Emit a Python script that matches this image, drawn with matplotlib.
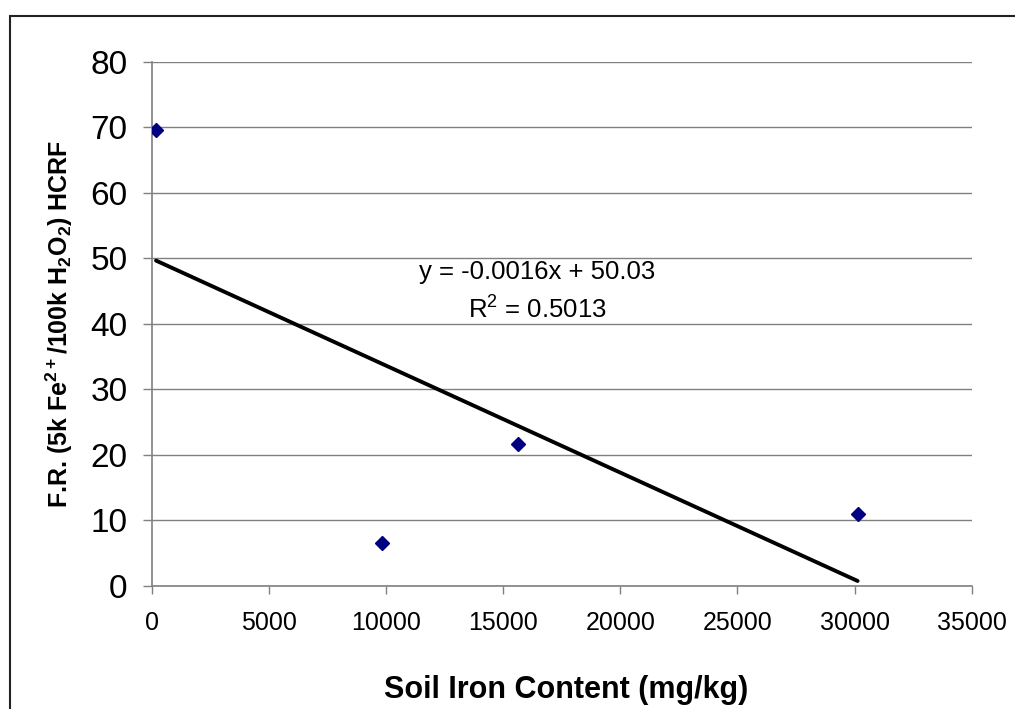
import numpy as np
import matplotlib
matplotlib.use("Agg")
import matplotlib.pyplot as plt
from matplotlib.patches import Rectangle

# -------------------- Data --------------------
iron_mg_kg = [170, 9800, 15615, 30130]
fr_hcrf = [69.6, 6.5, 21.7, 10.95]
x_ticks = [0, 5000, 10000, 15000, 20000, 25000, 30000, 35000]
y_ticks = [0, 10, 20, 30, 40, 50, 60, 70, 80]
eq_text = "y = -0.0016x + 50.03"
r2_text = "R$^2$ = 0.5013"

# -------------------- Style --------------------
plt.rcParams['font.family'] = ['Liberation Sans', 'DejaVu Sans']
plt.rcParams['mathtext.default'] = 'regular'
grid_col = "#808080"

fig = plt.figure(figsize=(10.15, 7.09), dpi=100)
ax = fig.add_axes([0.1498, 0.1739, 0.9573 - 0.1498, 0.9126 - 0.1739])

# outer chart frame (runs off the right and bottom edges)
fig.patches.append(Rectangle((10 / 1015, -0.1), 1.2, 1 - 16 / 709 + 0.1,
                             transform=fig.transFigure, fill=False,
                             edgecolor="#222222", lw=1.5))

# linear trendline from least squares on the points
slope, intercept = np.polyfit(iron_mg_kg, fr_hcrf, 1)
x_fit = np.array([min(iron_mg_kg), max(iron_mg_kg)])
ax.plot(x_fit, slope * x_fit + intercept, color="black", lw=2.8,
        solid_capstyle="round", zorder=3)

ax.plot(iron_mg_kg, fr_hcrf, linestyle="none", marker="D", markersize=7,
        color="#000080", zorder=4)

ax.set_xlim(0, 35000)
ax.set_ylim(0, 80)
ax.set_xticks(x_ticks)
ax.set_yticks(y_ticks)
ax.tick_params(axis="x", labelsize=18, direction="out", length=6,
               width=1, color=grid_col, pad=12)
ax.tick_params(axis="y", labelsize=24, direction="out", length=6.5,
               width=1, color=grid_col, pad=11)

ax.yaxis.grid(True, color=grid_col, lw=1)
ax.set_axisbelow(True)
for side in ["top", "right"]:
    ax.spines[side].set_visible(False)
for side in ["left", "bottom"]:
    ax.spines[side].set_color(grid_col)
    ax.spines[side].set_linewidth(1.2)

# x label placed in figure coordinates
fig.text(566 / 1015, 1 - 690 / 709, "Soil Iron Content (mg/kg)", fontsize=22,
         fontweight="bold", ha="center", va="center")
ax.set_ylabel("F.R. (5k Fe$^{2+}$/100k H$_2$O$_2$) HCRF", fontsize=18,
              fontweight="bold", labelpad=11)

ax.text(16440, 47.9, eq_text, fontsize=18.5, ha="center", va="center")
ax.text(16440, 42.1, r2_text, fontsize=18.5, ha="center", va="center")

fig.savefig("out.png", dpi=100)
